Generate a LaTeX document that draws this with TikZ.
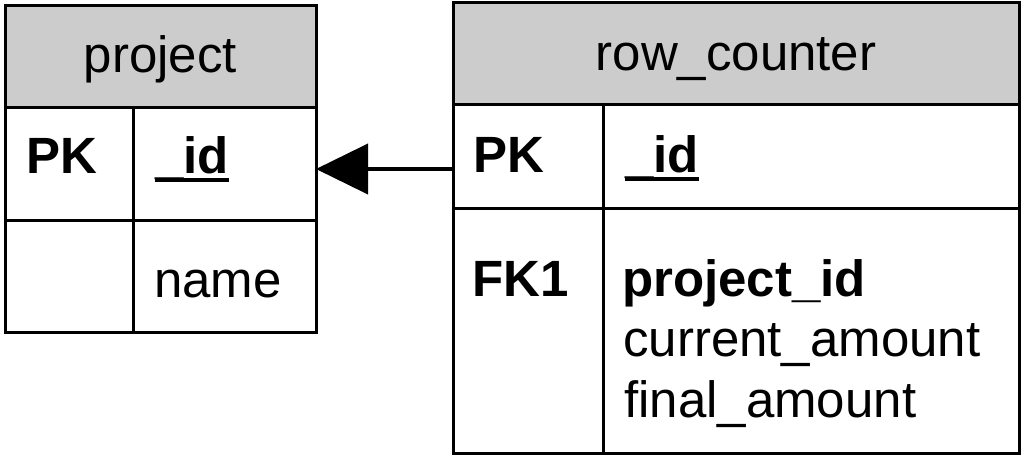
\documentclass[tikz,border=0pt]{standalone}
\usepackage{fontspec}
\setmainfont{Liberation Sans}
\usetikzlibrary{arrows.meta}
\definecolor{headgray}{RGB}{204,204,204}
\newcommand\ulbox[1]{\setbox0\hbox{#1}\rlap{\rule[-9pt]{\wd0}{4pt}}\box0}
\begin{document}
\begin{tikzpicture}[x=1pt,y=1pt,
  cell/.style={draw=black, line width=3pt, rectangle, inner sep=0pt, outer sep=0pt, anchor=north west},
  head/.style={cell, fill=headgray},
  txt/.style={inner sep=0pt, anchor=base west, font=\fontsize{51}{61}\selectfont},
  htxt/.style={inner sep=0pt, anchor=base, font=\fontsize{51}{61}\selectfont},
  fk/.style={line width=4pt, -{Triangle[length=52pt,width=50pt]}}]
\useasboundingbox (0,0) rectangle (1024,-456);
% project table
\node[head, minimum width=311pt, minimum height=102pt] (pHead) at (5,-5) {};
\node[cell, minimum width=128pt, minimum height=113pt] (pKey1) at (5,-107) {};
\node[cell, minimum width=183pt, minimum height=113pt] (pCol1) at (133,-107) {};
\node[cell, minimum width=128pt, minimum height=112pt] (pKey2) at (5,-220) {};
\node[cell, minimum width=183pt, minimum height=112pt] (pCol2) at (133,-220) {};
% row_counter table
\node[head, minimum width=566pt, minimum height=102pt] (rHead) at (453,-2) {};
\node[cell, minimum width=150pt, minimum height=104pt] (rKey1) at (453,-104) {};
\node[cell, minimum width=416pt, minimum height=104pt] (rCol1) at (603,-104) {};
\node[cell, minimum width=150pt, minimum height=245pt] (rKey2) at (453,-208) {};
\node[cell, minimum width=416pt, minimum height=245pt] (rCol2) at (603,-208) {};
% texts
\node[htxt] (tProject) at (160.5,-72) {project};
\node[htxt] (tRow) at (736,-70) {row\_counter};
\node[txt] (tPK1) at (26,-173) {\bfseries PK};
\node[txt] (tId1) at (155,-173) {\bfseries\ulbox{\_id}};
\node[txt] (tName) at (154,-297) {name};
\node[txt] (tPK2) at (473,-172) {\bfseries PK};
\node[txt] (tId2) at (625,-172) {\bfseries\ulbox{\_id}};
\node[txt] (tFK) at (472,-296) {\bfseries FK1};
\node[txt] (tPid) at (622,-296) {\bfseries project\_id};
\node[txt] (tCur) at (623,-356) {current\_amount};
\node[txt] (tFin) at (624,-417) {final\_amount};
% connector
\draw[fk] ([yshift=-13pt]rKey1.west) -- ([yshift=-5.5pt]pCol1.east);
\end{tikzpicture}
\end{document}
